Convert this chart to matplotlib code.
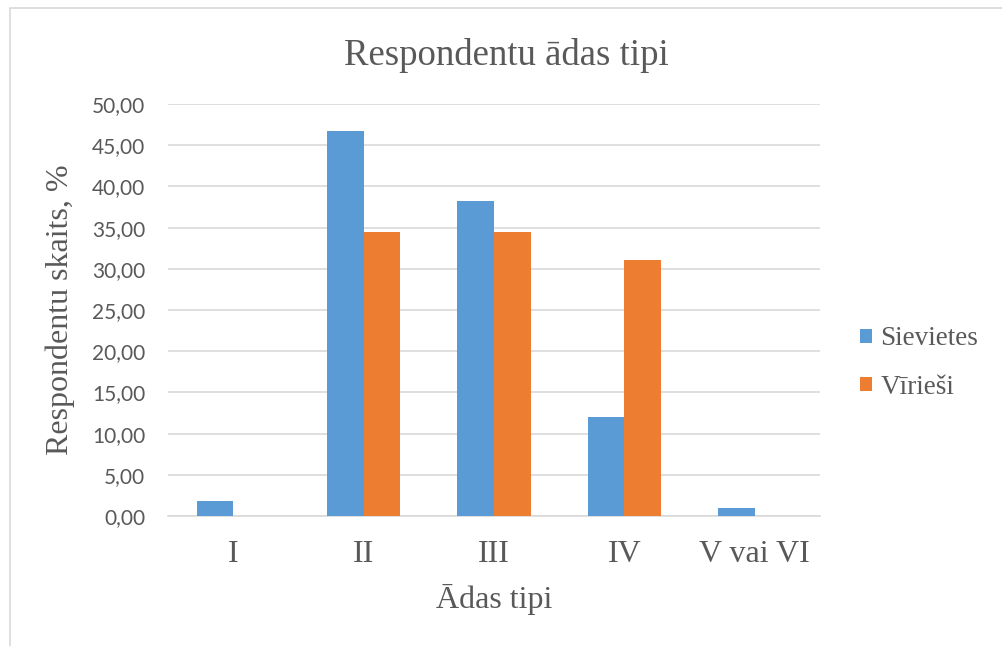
import matplotlib
matplotlib.use("Agg")
import matplotlib.pyplot as plt
from matplotlib.ticker import FuncFormatter, MultipleLocator
from matplotlib.patches import Rectangle
import numpy as np

categories = ["I", "II", "III", "IV", "V vai VI"]
sievietes = [1.85, 46.67, 38.24, 12.07, 0.93]
virieshi = [0.0, 34.48, 34.48, 31.03, 0.0]
series_names = ["Sievietes", "Vīrieši"]

text_color = "#595959"
plt.rcParams["font.family"] = ["Liberation Serif", "DejaVu Serif"]

fig = plt.figure(figsize=(10.02, 6.46), dpi=100)
fig.patch.set_facecolor("white")
# light chart border like the office export (only left/top edges visible)
fig.add_artist(Rectangle((9.5 / 1002, -0.05), 1.2, 1.05 - 8 / 646, transform=fig.transFigure,
                         fill=False, edgecolor="#d9d9d9", linewidth=1.2))

ax = fig.add_axes([168 / 1002, 1 - 516 / 646, 652 / 1002, 412 / 646])

x = np.arange(len(categories))
w = 0.28
ax.bar(x - w / 2, sievietes, w, color="#5B9BD5", label=series_names[0], zorder=3)
ax.bar(x + w / 2, virieshi, w, color="#ED7D31", label=series_names[1], zorder=3)

ax.set_xlim(-0.5, len(categories) - 0.5)
ax.set_ylim(0, 50)
ax.yaxis.set_major_locator(MultipleLocator(5))
ax.yaxis.set_major_formatter(FuncFormatter(lambda v, p: f"{v:.2f}".replace(".", ",")))
ax.grid(axis="y", color="#d9d9d9", linewidth=1.2, zorder=0)
ax.set_axisbelow(True)
for s in ["top", "right", "left"]:
    ax.spines[s].set_visible(False)
ax.spines["bottom"].set_color("#d9d9d9")
ax.spines["bottom"].set_linewidth(1.2)
ax.tick_params(axis="both", length=0, colors=text_color)
ax.tick_params(axis="y", labelsize=15, pad=16.5)
ax.tick_params(axis="x", labelsize=23, pad=17)
for lbl in ax.get_yticklabels():
    lbl.set_family(["Lato", "DejaVu Sans"])
ax.set_xticks(x)
ax.set_xticklabels(categories)

ax.set_xlabel("Ādas tipi", fontsize=23, color=text_color, labelpad=11)
ax.set_ylabel("Respondentu skaits, %", fontsize=23, color=text_color)
ax.yaxis.set_label_coords(-0.1426, 0.5)
ax.set_title("Respondentu ādas tipi", fontsize=26.5, color=text_color, pad=28, x=0.519)

leg = ax.legend(loc="center left", bbox_to_anchor=(860 / 1002, 1 - 363 / 646),
                bbox_transform=fig.transFigure, frameon=False, borderpad=0,
                borderaxespad=0, fontsize=19.5, handlelength=0.45, handleheight=0.45,
                handletextpad=0.3, labelspacing=0.85, labelcolor=text_color)

fig.savefig("out.png", dpi=100)
